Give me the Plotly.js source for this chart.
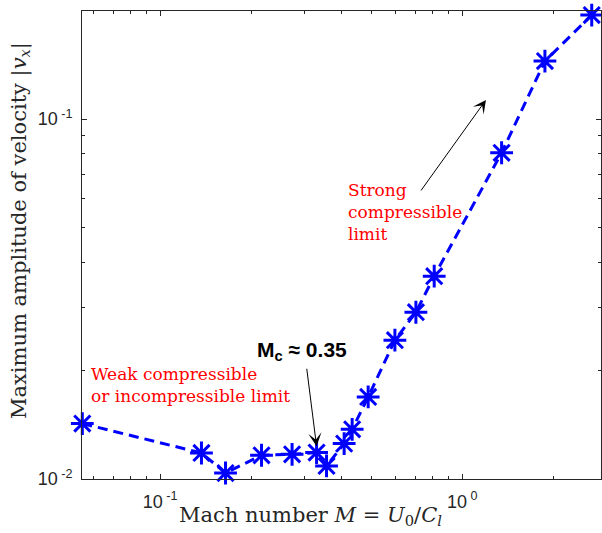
<!DOCTYPE html>
<html>
<head>
<meta charset="utf-8">
<script src="https://cdn.plot.ly/plotly-3.0.1.min.js"></script>
<style>html,body{margin:0;padding:0;background:#fff;}</style>
</head>
<body>
<div id="chart" style="width:602px;height:533px;"></div>
<script>
// Data
const machNumber = [0.0553, 0.1371, 0.1647, 0.2167, 0.2735, 0.3296, 0.3556, 0.4067, 0.4323, 0.4884, 0.5987, 0.7026, 0.8078, 1.350, 1.878, 2.683];
const maxAmplitude = [0.01426, 0.01181, 0.01039, 0.01164, 0.01171, 0.01184, 0.01087, 0.01254, 0.01374, 0.0169, 0.0243, 0.02906, 0.0366, 0.0806, 0.1449, 0.1945];

const xMajorTicks = [0.1, 1];
const xMajorLabels = ['10<sup> -1</sup>', '10<sup> 0</sup>'];
const xMinorTicks = [0.06, 0.07, 0.08, 0.09, 0.2, 0.3, 0.4, 0.5, 0.6, 0.7, 0.8, 0.9, 2];
const yMajorTicks = [0.01, 0.1];
const yMajorLabels = ['10<sup> -2</sup>', '10<sup> -1</sup>'];
const yMinorTicks = [0.02, 0.03, 0.04, 0.05, 0.06, 0.07, 0.08, 0.09];

const axisColor = '#262626';
const blue = 'rgb(0,0,255)';

const trace = {
  x: machNumber,
  y: maxAmplitude,
  type: 'scatter',
  mode: 'lines+markers',
  cliponaxis: false,
  line: {color: blue, width: 3, dash: '10px,6px'},
  marker: {symbol: 'asterisk-open', size: 19, color: blue, line: {color: blue, width: 3}},
  showlegend: false,
  hoverinfo: 'skip'
};

const layout = {
  width: 602,
  height: 533,
  margin: {l: 82, r: 1, t: 11, b: 54, pad: 0},
  paper_bgcolor: '#fff',
  plot_bgcolor: '#fff',
  showlegend: false,
  xaxis: {
    type: 'log',
    range: [-1.2583, 0.4593],
    showline: true, linecolor: axisColor, linewidth: 1, mirror: 'allticks',
    ticks: 'inside', ticklen: 5, tickwidth: 1, tickcolor: axisColor,
    tickmode: 'array', tickvals: xMajorTicks, ticktext: xMajorLabels,
    tickfont: {family: 'Liberation Sans, Arial, sans-serif', size: 18, color: axisColor},
    ticklabelstandoff: 6,
    minor: {tickmode: 'array', tickvals: xMinorTicks, ticks: 'inside', ticklen: 3, tickwidth: 1, tickcolor: axisColor, showgrid: false},
    showgrid: false, zeroline: false
  },
  yaxis: {
    type: 'log',
    range: [-2, -0.6998],
    showline: true, linecolor: axisColor, linewidth: 1, mirror: 'allticks',
    ticks: 'inside', ticklen: 5, tickwidth: 1, tickcolor: axisColor,
    tickmode: 'array', tickvals: yMajorTicks, ticktext: yMajorLabels,
    tickfont: {family: 'Liberation Sans, Arial, sans-serif', size: 18, color: axisColor},
    ticklabelstandoff: 5,
    minor: {tickmode: 'array', tickvals: yMinorTicks, ticks: 'inside', ticklen: 3, tickwidth: 1, tickcolor: axisColor, showgrid: false},
    showgrid: false, zeroline: false
  },
  annotations: [
    // x axis title
    {xref: 'paper', yref: 'paper', x: 0.44, y: -0.078, xanchor: 'center', yanchor: 'middle', showarrow: false,
     text: 'Mach number <i>M</i> = <i>U</i><sub>0</sub>/<i>C<sub>l</sub></i>',
     font: {family: 'DejaVu Serif, serif', size: 21, color: axisColor}},
    // y axis title
    {xref: 'paper', yref: 'paper', x: -0.1195, y: 0.532, xanchor: 'center', yanchor: 'middle', showarrow: false, textangle: -90,
     text: 'Maximum amplitude of velocity |<i>v<sub>x</sub></i>|',
     font: {family: 'DejaVu Serif, serif', size: 21, color: axisColor}},
    // weak text
    {xref: 'x', yref: 'y', x: -1.236, y: -1.7395, xanchor: 'left', yanchor: 'middle', align: 'left', showarrow: false,
     text: 'Weak compressible<br>or incompressible limit',
     font: {family: 'DejaVu Serif, serif', size: 17, color: 'rgb(255,0,0)'}},
    // strong text
    {xref: 'x', yref: 'y', x: -0.3834, y: -1.2586, xanchor: 'left', yanchor: 'middle', align: 'left', showarrow: false,
     text: 'Strong<br>compressible<br>limit',
     font: {family: 'DejaVu Serif, serif', size: 17, color: 'rgb(255,0,0)'}},
    // Mc label
    {xref: 'x', yref: 'y', x: -0.6864, y: -1.645, xanchor: 'left', yanchor: 'middle', showarrow: false,
     text: '<b>M<sub>c</sub> ≈ 0.35</b>',
     font: {family: 'Liberation Sans, Arial, sans-serif', size: 21, color: '#000'}},
    // Mc arrow
    {xref: 'x', yref: 'y', x: -0.482, y: -1.909, ax: -10, ay: -79, text: '', showarrow: true,
     arrowhead: 3, arrowsize: 2.2, arrowwidth: 1, arrowcolor: '#000'},
    // strong arrow
    {xref: 'x', yref: 'y', x: 0.0785, y: -0.947, ax: -66, ay: 92, text: '', showarrow: true,
     arrowhead: 3, arrowsize: 2.2, arrowwidth: 1, arrowcolor: '#000'}
  ]
};

Plotly.newPlot('chart', [trace], layout, {staticPlot: true, displayModeBar: false});
</script>
</body>
</html>
